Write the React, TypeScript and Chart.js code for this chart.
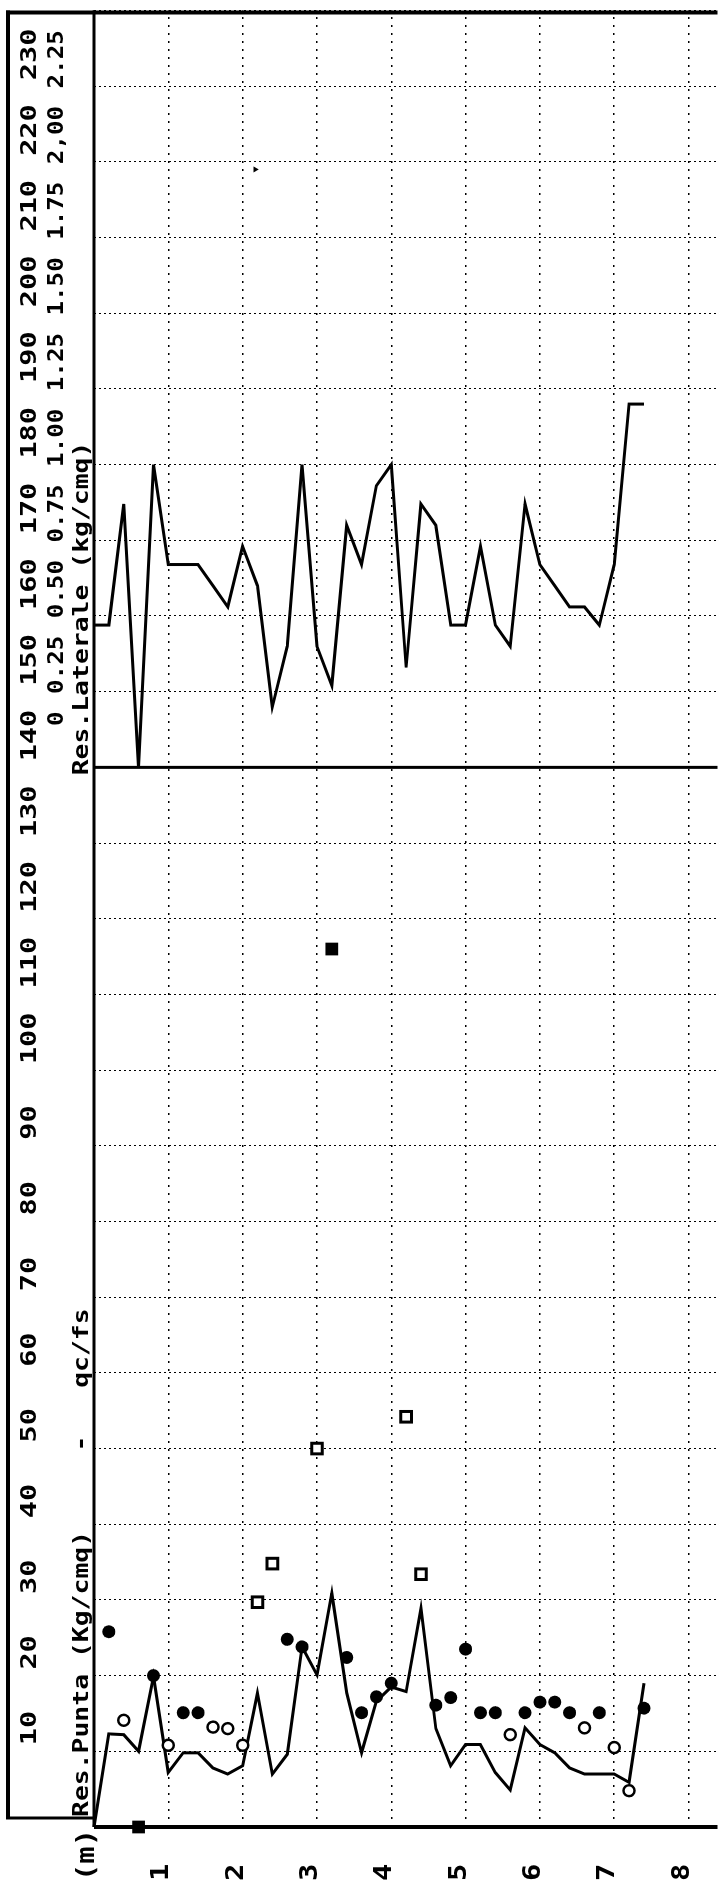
import React, { useEffect, useRef } from 'react';
import { Chart, registerables } from 'chart.js';

Chart.register(...registerables);

// ---------- DATA ----------
// depth of each reading (m)
const depths = [
  0.0, 0.2, 0.4, 0.6, 0.8, 1.0, 1.2, 1.4, 1.6, 1.8, 2.0, 2.2, 2.4, 2.6, 2.8, 3.0, 3.2, 3.4, 3.6,
  3.8, 4.0, 4.2, 4.4, 4.6, 4.8, 5.0, 5.2, 5.4, 5.6, 5.8, 6.0, 6.2, 6.4, 6.6, 6.8, 7.0, 7.2, 7.4,
];
// Res. Punta qc (Kg/cmq)
const qcValues = [
  0, 12.3, 12.2, 10.0, 19.9, 7.2, 9.8, 9.8, 7.8, 7.0, 8.1, 17.7, 7.0, 9.6, 23.8, 20.1, 30.9, 17.7, 9.8,
  16.6, 18.5, 17.9, 28.9, 13.0, 8.1, 10.9, 10.9, 7.2, 4.9, 13.1, 10.9, 9.8, 7.8, 7.0, 7.0, 7.0, 5.9, 19.0,
];
// Res. Laterale fs (kg/cmq)
const fsValues = [
  0.47, 0.47, 0.87, 0.0, 1.0, 0.67, 0.67, 0.67, 0.6, 0.53, 0.73, 0.6, 0.2, 0.4, 1.0, 0.4, 0.27, 0.8, 0.67,
  0.93, 1.0, 0.33, 0.87, 0.8, 0.47, 0.47, 0.73, 0.47, 0.4, 0.87, 0.67, 0.6, 0.53, 0.53, 0.47, 0.67, 1.2, 1.2,
];
// qc/fs markers
const filledCircleDepths = [0.2, 0.8, 1.2, 1.4, 2.6, 2.8, 3.4, 3.6, 3.8, 4.0, 4.6, 4.8, 5.0, 5.2, 5.4, 5.8, 6.0, 6.2, 6.4, 6.8, 7.4];
const filledCircleValues = [25.8, 20.0, 15.1, 15.1, 24.8, 23.8, 22.4, 15.1, 17.2, 19.0, 16.1, 17.1, 23.5, 15.1, 15.1, 15.1, 16.5, 16.5, 15.1, 15.1, 15.7];
const openCircleDepths = [0.4, 1.0, 1.6, 1.8, 2.0, 5.6, 6.6, 7.0, 7.2];
const openCircleValues = [14.1, 10.8, 13.2, 13.0, 10.8, 12.2, 13.1, 10.5, 4.8];
const openSquareDepths = [2.2, 2.4, 3.0, 4.2, 4.4];
const openSquareValues = [29.7, 34.8, 50.0, 54.2, 33.4];
const filledSquareDepths = [0.6, 3.2];
const filledSquareValues = [0, 116];
const speckDepths = [2.17];
const speckValues = [219];

// ---------- AXES / TEXT ----------
const qcTickValues = [10, 20, 30, 40, 50, 60, 70, 80, 90, 100, 110, 120, 130, 140, 150, 160, 170, 180, 190, 200, 210, 220, 230];
const qcTickLabels = ['10', '20', '30', '40', '50', '60', '70', '80', '90', '100', '110', '120', '130', '140', '150', '160', '170', '180', '190', '200', '210', '220', '230'];
const fsTickValues = [0, 0.25, 0.5, 0.75, 1.0, 1.25, 1.5, 1.75, 2.0, 2.25];
const fsTickLabels = ['0', '0.25', '0.50', '0.75', '1.00', '1.25', '1.50', '1.75', '2,00', '2.25'];
const depthTickValues = [0, 1, 2, 3, 4, 5, 6, 7, 8];
const depthTickLabels = ['(m)', '1', '2', '3', '4', '5', '6', '7', '8'];
const qcTitle = 'Res.Punta (Kg/cmq)     -   qc/fs';
const fsTitle = 'Res.Laterale (kg/cmq)';

// chart drawn upright (values left→right, depth top→bottom), page shows it turned 90° anticlockwise
const W = 1889;
const H = 728;
const FONT = '"DejaVu Sans Mono", "Liberation Mono", monospace';

function drawText(ctx: CanvasRenderingContext2D, text: string, x: number, y: number, size: number, sx: number, align: 'left' | 'right') {
  ctx.save();
  ctx.font = `bold ${size}px ${FONT}`;
  ctx.textAlign = 'left';
  ctx.textBaseline = 'alphabetic';
  ctx.fillStyle = '#000';
  const w = ctx.measureText(text).width * sx;
  const x0 = align === 'right' ? x - w : x;
  ctx.translate(x0, y);
  ctx.scale(sx, 1);
  ctx.fillText(text, 0, 0);
  ctx.restore();
}

function seg(ctx: CanvasRenderingContext2D, x1: number, y1: number, x2: number, y2: number, w: number) {
  ctx.lineWidth = w;
  ctx.beginPath();
  ctx.moveTo(x1, y1);
  ctx.lineTo(x2, y2);
  ctx.stroke();
}

const framePlugin = {
  id: 'cptFrame',
  beforeDatasetsDraw(chart: any) {
    const { ctx, chartArea: ca, scales } = chart;
    const xb = scales.x.getPixelForValue(140);
    ctx.save();
    ctx.strokeStyle = '#000';
    ctx.setLineDash([]);
    seg(ctx, xb, ca.top, xb, ca.bottom, 3);
    seg(ctx, ca.left, ca.top, ca.right, ca.top, 3);
    seg(ctx, ca.left, ca.top, ca.left, ca.bottom, 4);
    seg(ctx, ca.right - 2, 6, ca.right - 2, ca.bottom, 4);
    seg(ctx, 71, 8, ca.right, 8, 4);
    seg(ctx, 71, 6, 71, ca.top, 3);
    ctx.restore();
  },
  afterDraw(chart: any) {
    const { ctx, chartArea: ca, scales } = chart;
    const xs = scales.x;
    const xf = scales.xfs;
    const ys = scales.y;
    qcTickValues.forEach((v, i) => {
      drawText(ctx, qcTickLabels[i], xs.getPixelForValue(v) + 6, 36, 22, 1.3, 'left');
    });
    fsTickValues.forEach((v, i) => {
      drawText(ctx, fsTickLabels[i], xf.getPixelForValue(v) + 56, 63, 22, 1.1, 'right');
    });
    drawText(ctx, qcTitle, ca.left + 10, 88, 22, 1.2, 'left');
    drawText(ctx, fsTitle, xs.getPixelForValue(140) - 8, 88, 22, 1.2, 'left');
    depthTickValues.forEach((d, i) => {
      drawText(ctx, depthTickLabels[i], 8, ys.getPixelForValue(d), 24, 1.2, 'left');
    });
  },
};

function pts(xv: number[], yv: number[]) {
  return xv.map((v, i) => ({ x: v, y: yv[i] }));
}

export default function App() {
  const ref = useRef<HTMLCanvasElement>(null);
  useEffect(() => {
    if (!ref.current) return;
    const chart = new Chart(ref.current, {
      type: 'scatter',
      data: {
        datasets: [
          {
            label: 'speck',
            data: pts(speckValues, speckDepths),
            xAxisID: 'x',
            pointStyle: 'triangle',
            rotation: 180,
            pointRadius: 3.5,
            pointBackgroundColor: '#000',
            pointBorderWidth: 0,
            clip: false,
          },
          {
            label: 'qc/fs filled square',
            data: pts(filledSquareValues, filledSquareDepths),
            xAxisID: 'x',
            pointStyle: 'rect',
            pointRadius: 9,
            pointBackgroundColor: '#000',
            pointBorderWidth: 0,
            clip: false,
          },
          {
            label: 'qc/fs open square',
            data: pts(openSquareValues, openSquareDepths),
            xAxisID: 'x',
            pointStyle: 'rect',
            pointRadius: 7.5,
            pointBackgroundColor: '#fff',
            pointBorderColor: '#000',
            pointBorderWidth: 3,
            clip: false,
          },
          {
            label: 'qc/fs filled circle',
            data: pts(filledCircleValues, filledCircleDepths),
            xAxisID: 'x',
            pointStyle: 'circle',
            pointRadius: 6.5,
            pointBackgroundColor: '#000',
            pointBorderWidth: 0,
            clip: false,
          },
          {
            label: 'qc/fs open circle',
            data: pts(openCircleValues, openCircleDepths),
            xAxisID: 'x',
            pointStyle: 'circle',
            pointRadius: 5.5,
            pointBackgroundColor: '#fff',
            pointBorderColor: '#000',
            pointBorderWidth: 2.5,
            clip: false,
          },
          {
            label: 'Res.Punta',
            data: pts(qcValues, depths),
            xAxisID: 'x',
            showLine: true,
            borderColor: '#000',
            borderWidth: 3,
            borderJoinStyle: 'miter',
            pointRadius: 0,
            clip: false,
          },
          {
            label: 'Res.Laterale',
            data: pts(fsValues, depths),
            xAxisID: 'xfs',
            showLine: true,
            borderColor: '#000',
            borderWidth: 3,
            borderJoinStyle: 'miter',
            pointRadius: 0,
            clip: false,
          },
        ] as any,
      },
      options: {
        responsive: false,
        devicePixelRatio: 1,
        animation: false,
        events: [],
        layout: { padding: { left: 62, right: 3, top: 94, bottom: 0 } },
        plugins: { legend: { display: false }, tooltip: { enabled: false } },
        scales: {
          x: {
            type: 'linear',
            position: 'top',
            min: 0,
            max: 240,
            ticks: { stepSize: 10, display: false },
            grid: {
              drawTicks: false,
              lineWidth: 1,
              color: (c: any) => (c.tick && c.tick.value === 140 ? 'rgba(0,0,0,0)' : '#000'),
            },
            border: { display: false, dash: [2, 3] },
          },
          xfs: {
            type: 'linear',
            position: 'top',
            min: -3.5,
            max: 2.5,
            display: false,
          },
          y: {
            type: 'linear',
            reverse: true,
            min: 0,
            max: 8.39,
            ticks: { stepSize: 1, display: false, includeBounds: false },
            grid: { drawTicks: false, lineWidth: 1.5, color: '#000' },
            border: { display: false, dash: [2, 6] },
          },
        },
      } as any,
      plugins: [framePlugin],
    });
    return () => chart.destroy();
  }, []);

  return (
    <div style={{ position: 'absolute', left: 0, top: 0, width: 728, height: 1889, overflow: 'hidden', background: '#fff' }}>
      <canvas
        ref={ref}
        width={W}
        height={H}
        style={{
          position: 'absolute',
          left: 0,
          top: 0,
          width: W,
          height: H,
          transformOrigin: '0 0',
          transform: `translateY(${W}px) rotate(-90deg)`,
        }}
      />
    </div>
  );
}
